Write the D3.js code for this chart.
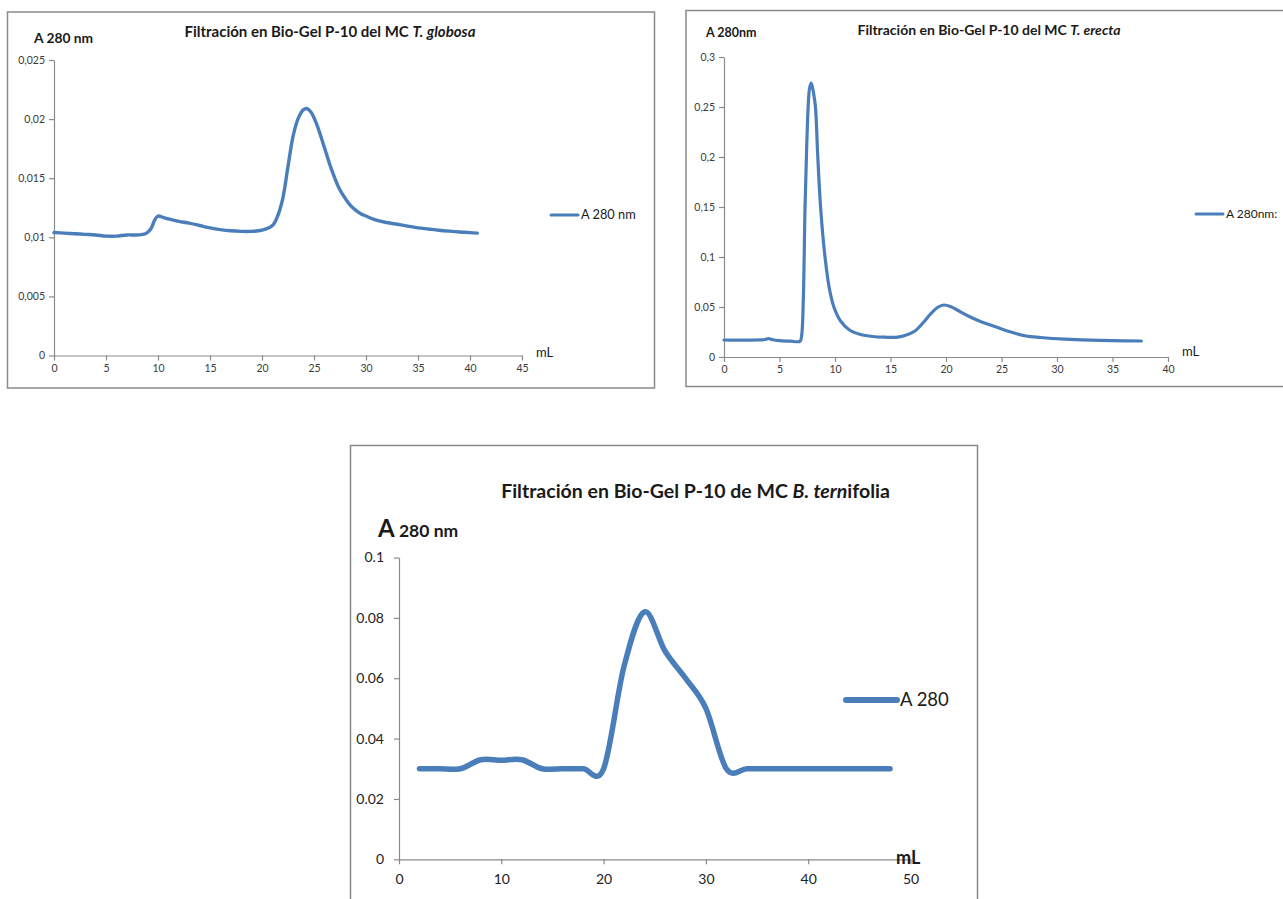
<!DOCTYPE html>
<html>
<head>
<meta charset="utf-8">
<script src="https://cdn.jsdelivr.net/npm/d3@7"></script>
<style>
  body { margin: 0; background: #fff; }
  svg { display: block; }
</style>
</head>
<body>
<svg id="chart" width="1283" height="899"></svg>
<script>
// ---- T. globosa elution profile (mL, A280) ----
const globosaML = [0, 1, 2, 3, 4, 5, 6, 7, 8, 8.8, 9.3, 9.7, 10, 10.5, 11, 12, 13, 14, 15, 16, 17, 18, 19, 20, 21, 21.5, 22, 22.5, 23, 23.5, 24, 24.3, 24.7, 25.2, 25.6, 26, 26.5, 27, 27.5, 28, 28.5, 29, 29.5, 30, 31, 32, 33, 34, 35, 36, 37, 38, 39, 40, 40.7];
const globosaA  = [0.0104, 0.01035, 0.0103, 0.01025, 0.0102, 0.0101, 0.0101, 0.0102, 0.0102, 0.0103, 0.0107, 0.0115, 0.0118, 0.01168, 0.01155, 0.01135, 0.0112, 0.0110, 0.0108, 0.01065, 0.01055, 0.0105, 0.0105, 0.0106, 0.0110, 0.0118, 0.0133, 0.0160, 0.0186, 0.0201, 0.0208, 0.0209, 0.0206, 0.0197, 0.0187, 0.0176, 0.0162, 0.0150, 0.0140, 0.0133, 0.0127, 0.0123, 0.0120, 0.0118, 0.01145, 0.01125, 0.0111, 0.01095, 0.0108, 0.0107, 0.0106, 0.01052, 0.01045, 0.0104, 0.01035];
const globosaXTicks = [0, 5, 10, 15, 20, 25, 30, 35, 40, 45];
const globosaYTicks = [0, 0.005, 0.01, 0.015, 0.02, 0.025];

// ---- T. erecta elution profile (mL, A280) ----
const erectaML = [0, 1, 2, 3, 3.7, 4, 4.4, 5, 6, 6.85, 7.0, 7.15, 7.3, 7.45, 7.58, 7.7, 7.85, 8.0, 8.1, 8.24, 8.45, 8.7, 9.1, 9.5, 9.9, 10.5, 11.3, 12.3, 13.4, 14.5, 15.5, 16.3, 17.2, 18, 18.6, 19.3, 19.8, 20.4, 21, 22, 23, 24, 25, 26, 27.2, 28.5, 30.7, 33, 35, 37.6];
const erectaA  = [0.017, 0.0168, 0.0168, 0.0170, 0.0175, 0.0185, 0.0172, 0.0163, 0.0158, 0.0158, 0.022, 0.06, 0.15, 0.21, 0.25, 0.268, 0.274, 0.268, 0.262, 0.25, 0.20, 0.15, 0.10, 0.068, 0.05, 0.036, 0.027, 0.0225, 0.0205, 0.0198, 0.0197, 0.0215, 0.026, 0.035, 0.043, 0.050, 0.052, 0.0505, 0.047, 0.041, 0.036, 0.032, 0.028, 0.0245, 0.021, 0.0195, 0.0178, 0.0168, 0.0163, 0.016];
const erectaXTicks = [0, 5, 10, 15, 20, 25, 30, 35, 40];
const erectaYTicks = [0, 0.05, 0.1, 0.15, 0.2, 0.25, 0.3];

// ---- B. ternifolia elution profile (mL, A280) ----
const ternifoliaML = [2, 4, 6, 8, 10, 12, 14, 16, 18, 20, 22, 24, 26, 28, 30, 32, 34, 36, 38, 40, 42, 44, 46, 48];
const ternifoliaA  = [0.03, 0.03, 0.03, 0.033, 0.0328, 0.033, 0.03, 0.03, 0.03, 0.03, 0.064, 0.082, 0.069, 0.06, 0.05, 0.03, 0.03, 0.03, 0.03, 0.03, 0.03, 0.03, 0.03, 0.03];
const ternifoliaXTicks = [0, 10, 20, 30, 40, 50];
const ternifoliaYTicks = [0, 0.02, 0.04, 0.06, 0.08, 0.1];

const LINE = "#4a7ebb";
const AXIS = "#8a8a8a";
const FONT = "Lato, 'DejaVu Sans', sans-serif";

const svg = d3.select("#chart");

const commaFmt = v => String(+v.toFixed(4)).replace(".", ",");
const dotFmt = v => String(+v.toFixed(4));

function drawPanel(o) {
  const g = svg.append("g");

  // outer frame
  g.append("rect")
    .attr("x", o.frame.x).attr("y", o.frame.y)
    .attr("width", o.frame.w).attr("height", o.frame.h)
    .attr("fill", "none").attr("stroke", AXIS).attr("stroke-width", 1.5);

  const x = d3.scaleLinear().domain(o.xDomain).range([o.plot.left, o.plot.right]);
  const y = d3.scaleLinear().domain(o.yDomain).range([o.plot.bottom, o.plot.top]);

  const xAxis = g.append("g")
    .attr("transform", `translate(0,${o.plot.bottom})`)
    .call(d3.axisBottom(x).tickValues(o.xTicks).tickFormat(d3.format("d"))
      .tickSizeInner(o.tick).tickSizeOuter(0).tickPadding(o.xPad));
  const yAxis = g.append("g")
    .attr("transform", `translate(${o.plot.left},0)`)
    .call(d3.axisLeft(y).tickValues(o.yTicks).tickFormat(o.fmt)
      .tickSizeInner(o.tick).tickSizeOuter(0).tickPadding(o.yPad));

  [xAxis, yAxis].forEach(a => {
    a.select(".domain").attr("stroke", AXIS).attr("stroke-width", 1.2);
    a.selectAll(".tick line").attr("stroke", AXIS).attr("stroke-width", 1.2);
    a.selectAll(".tick text")
      .attr("fill", o.tickColor)
      .style("font-family", FONT)
      .style("font-size", o.tickSize + "px");
  });

  // data line
  const pts = o.xs.map((v, i) => [v, o.ys[i]]);
  g.append("path")
    .datum(pts)
    .attr("fill", "none")
    .attr("stroke", LINE)
    .attr("stroke-width", o.lineW)
    .attr("stroke-linejoin", "round")
    .attr("stroke-linecap", "round")
    .attr("d", d3.line().x(d => x(d[0])).y(d => y(d[1])).curve(o.curve));

  // title with italic species name
  const t = g.append("text")
    .attr("x", o.title.x).attr("y", o.title.y)
    .attr("text-anchor", "middle")
    .style("font-family", FONT).style("font-weight", "bold")
    .style("font-size", o.title.size + "px")
    .attr("fill", "#1a1a1a");
  o.title.parts.forEach(p => {
    t.append("tspan").text(p[0]).style("font-style", p[1] ? "italic" : "normal");
  });

  // y-axis caption
  const yl = g.append("text")
    .attr("x", o.yLabel.x).attr("y", o.yLabel.y)
    .style("font-family", FONT).style("font-weight", "bold")
    .attr("fill", "#1a1a1a");
  o.yLabel.parts.forEach(p => {
    yl.append("tspan").text(p[0]).style("font-size", p[1] + "px");
  });

  // x-axis caption
  g.append("text")
    .attr("x", o.xLabel.x).attr("y", o.xLabel.y)
    .style("font-family", FONT)
    .style("font-weight", o.xLabel.bold ? "bold" : "normal")
    .style("font-size", o.xLabel.size + "px")
    .attr("fill", "#1a1a1a")
    .text("mL");

  // legend
  g.append("line")
    .attr("x1", o.legend.x1).attr("x2", o.legend.x2)
    .attr("y1", o.legend.y).attr("y2", o.legend.y)
    .attr("stroke", LINE).attr("stroke-width", o.legend.w)
    .attr("stroke-linecap", "round");
  g.append("text")
    .attr("x", o.legend.x2 + 3).attr("y", o.legend.y)
    .attr("dy", "0.35em")
    .style("font-family", FONT)
    .style("font-size", o.legend.size + "px")
    .attr("fill", "#1a1a1a")
    .text(o.legend.text);
}

// Panel: T. globosa
drawPanel({
  frame: { x: 7.5, y: 12, w: 647, h: 376 },
  plot: { left: 54, right: 522, top: 60, bottom: 355.5 },
  xDomain: [0, 45], yDomain: [0, 0.025],
  xTicks: globosaXTicks, yTicks: globosaYTicks, fmt: commaFmt,
  tick: 5, xPad: 4, yPad: 4, tickSize: 10.5, tickColor: "#3a3a3a",
  xs: globosaML, ys: globosaA, lineW: 3.4, curve: d3.curveCatmullRom.alpha(0.5),
  title: { x: 330, y: 37, size: 15, parts: [["Filtración en Bio-Gel P-10 del MC ", false], ["T. globosa", true]] },
  yLabel: { x: 34, y: 43, parts: [["A 280 nm", 13.8]] },
  xLabel: { x: 536, y: 357, size: 13, bold: false },
  legend: { x1: 551, x2: 578, y: 215, w: 3, size: 12.8, text: "A 280 nm" }
});

// Panel: T. erecta
drawPanel({
  frame: { x: 686, y: 10.5, w: 700, h: 376 },
  plot: { left: 724, right: 1168, top: 57, bottom: 357 },
  xDomain: [0, 40], yDomain: [0, 0.3],
  xTicks: erectaXTicks, yTicks: erectaYTicks, fmt: commaFmt,
  tick: 5, xPad: 4, yPad: 4, tickSize: 10.5, tickColor: "#3a3a3a",
  xs: erectaML, ys: erectaA, lineW: 3.2, curve: d3.curveCatmullRom.alpha(0.5),
  title: { x: 989, y: 35, size: 14, parts: [["Filtración en Bio-Gel P-10 del MC ", false], ["T. erecta", true]] },
  yLabel: { x: 706, y: 36.5, parts: [["A 280nm", 12.5]] },
  xLabel: { x: 1182, y: 356, size: 13, bold: false },
  legend: { x1: 1196, x2: 1223, y: 214, w: 3, size: 12, text: "A 280nm:" }
});

// Panel: B. ternifolia
drawPanel({
  frame: { x: 350.5, y: 445.5, w: 627, h: 500 },
  plot: { left: 399, right: 910.5, top: 557.5, bottom: 859.3 },
  xDomain: [0, 50], yDomain: [0, 0.1],
  xTicks: ternifoliaXTicks, yTicks: ternifoliaYTicks, fmt: dotFmt,
  tick: 5, xPad: 10, yPad: 10, tickSize: 14, tickColor: "#222",
  xs: ternifoliaML, ys: ternifoliaA, lineW: 5.5, curve: d3.curveCardinal.tension(0),
  title: { x: 695.5, y: 498, size: 19.5, parts: [["Filtración en Bio-Gel P-10 de MC ", false], ["B. tern", true], ["ifolia", false]] },
  yLabel: { x: 378, y: 537, parts: [["A", 24], [" 280 nm", 17.5]] },
  xLabel: { x: 896, y: 864, size: 18, bold: true },
  legend: { x1: 846, x2: 897, y: 700, w: 6, size: 18.5, text: "A 280" }
});
</script>
</body>
</html>
